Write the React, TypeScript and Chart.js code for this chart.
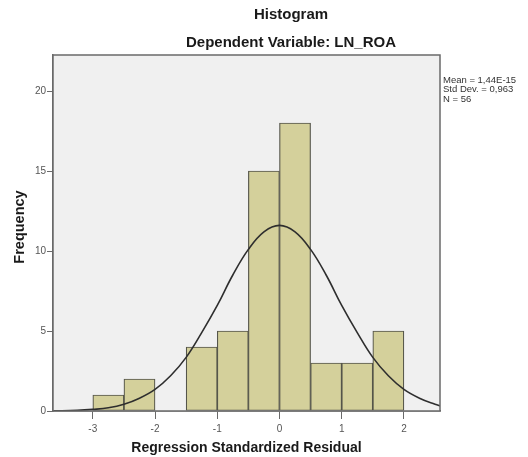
import React, { useEffect, useRef } from "react";
import { Chart, registerables } from "chart.js";

Chart.register(...registerables);

const binCenters = [-2.75, -2.25, -1.25, -0.75, -0.25, 0.25, 0.75, 1.25, 1.75];
const binCounts = [1, 2, 4, 5, 15, 18, 3, 3, 5];
const curveX = [-3.64, -3.25, -3, -2.75, -2.5, -2.25, -2, -1.75, -1.5, -1.25, -1, -0.75, -0.5, -0.25, 0, 0.25, 0.5, 0.75, 1, 1.25, 1.5, 1.75, 2, 2.25, 2.5, 2.6];
const curveY = [0.01, 0.04, 0.1, 0.2, 0.42, 0.8, 1.35, 2.2, 3.35, 4.9, 6.6, 8.5, 10.1, 11.2, 11.6, 11.2, 10.1, 8.5, 6.6, 4.9, 3.35, 2.2, 1.35, 0.8, 0.42, 0.3];
const xTicks = [-3, -2, -1, 0, 1, 2];
const yTicks = [0, 5, 10, 15, 20];
const titleLines = ["Histogram", "Dependent Variable: LN_ROA"];
const statLines = ["Mean = 1,44E-15", "Std Dev. = 0,963", "N = 56"];
const xTitle = "Regression Standardized Residual";
const yTitle = "Frequency";

const FONT = "'Liberation Sans', Arial, sans-serif";

export default function App() {
  const ref = useRef<HTMLCanvasElement | null>(null);
  useEffect(() => {
    if (!ref.current) return;
    const decor = {
      id: "decor",
      beforeDatasetsDraw(chart: any) {
        const { ctx, chartArea: a } = chart;
        ctx.save();
        ctx.fillStyle = "#f0f0f0";
        ctx.fillRect(a.left, a.top, a.right - a.left, a.bottom - a.top);
        ctx.restore();
      },
      afterDraw(chart: any) {
        const { ctx, chartArea: a } = chart;
        ctx.save();
        ctx.strokeStyle = "#6a6a6a";
        ctx.lineWidth = 1.5;
        ctx.strokeRect(a.left, a.top, a.right - a.left, a.bottom - a.top);
        ctx.fillStyle = "#1a1a1a";
        ctx.textAlign = "center";
        ctx.textBaseline = "middle";
        ctx.font = `bold 15px ${FONT}`;
        ctx.fillText(titleLines[0], 291, 15);
        ctx.fillText(titleLines[1], 291, 43);
        ctx.font = `bold 14px ${FONT}`;
        ctx.fillText(xTitle, (a.left + a.right) / 2, 448);
        ctx.save();
        ctx.translate(20, 227);
        ctx.rotate(-Math.PI / 2);
        ctx.font = `bold 14.5px ${FONT}`;
        ctx.fillText(yTitle, 0, 0);
        ctx.restore();
        ctx.textAlign = "left";
        ctx.font = `9.5px ${FONT}`;
        ctx.fillStyle = "#333";
        statLines.forEach((s, i) => ctx.fillText(s, a.right + 3, 80 + i * 9.5));
        ctx.restore();
      },
    };
    const chart = new Chart(ref.current, {
      type: "bar",
      data: {
        datasets: [
          {
            type: "line",
            data: curveX.map((x, i) => ({ x, y: curveY[i] })),
            borderColor: "#2e2e2e",
            borderWidth: 1.6,
            pointRadius: 0,
            tension: 0.4,
            fill: false,
            order: 0,
          } as any,
          {
            type: "bar",
            data: binCenters.map((x, i) => ({ x, y: binCounts[i] })),
            backgroundColor: "#d4d09b",
            borderColor: "#55554a",
            borderWidth: 1.2,
            borderSkipped: false,
            barPercentage: 1,
            categoryPercentage: 1,
            order: 1,
          } as any,
        ],
      },
      plugins: [decor],
      options: {
        animation: false,
        responsive: false,
        layout: { padding: { top: 55, right: 88, left: 0, bottom: 0 } },
        plugins: { legend: { display: false }, tooltip: { enabled: false }, title: { display: false } },
        scales: {
          x: {
            type: "linear",
            min: -3.64,
            max: 2.58,
            offset: false,
            afterFit(s: any) { s.height = 46; },
            afterBuildTicks(s: any) { s.ticks = xTicks.map((v) => ({ value: v })); },
            ticks: { color: "#555", font: { family: FONT, size: 10 }, padding: 4, maxRotation: 0 },
            grid: { offset: false, drawOnChartArea: false, drawTicks: true, tickLength: 8, color: "#6a6a6a" },
            border: { color: "#6a6a6a", width: 1.5 },
          },
          y: {
            type: "linear",
            min: 0,
            max: 22.25,
            afterFit(s: any) { s.width = 53; },
            afterBuildTicks(s: any) { s.ticks = yTicks.map((v) => ({ value: v })); },
            ticks: { color: "#555", font: { family: FONT, size: 10 }, padding: 1 },
            grid: { offset: false, drawOnChartArea: false, drawTicks: true, tickLength: 6, color: "#6a6a6a" },
            border: { color: "#6a6a6a", width: 1.5 },
          },
        },
      } as any,
    });
    return () => chart.destroy();
  }, []);
  return (
    <div style={{ position: "fixed", left: 0, top: 0, width: 528, height: 457, background: "#fff" }}>
      <canvas ref={ref} width={528} height={457} />
    </div>
  );
}
